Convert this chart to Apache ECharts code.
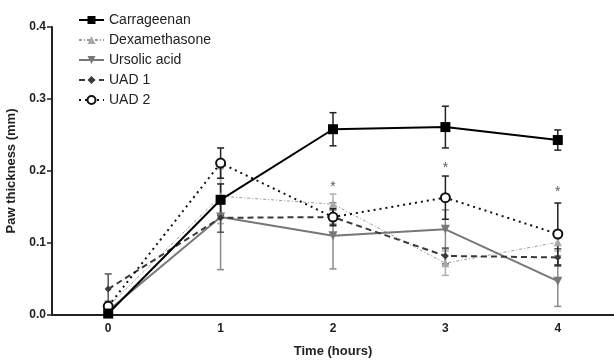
<!DOCTYPE html>
<html>
<head>
<meta charset="utf-8">
<script src="https://cdn.jsdelivr.net/npm/echarts@6/dist/echarts.min.js"></script>
<style>
  html, body { margin: 0; padding: 0; background: #fff; }
  #chart { width: 614px; height: 360px; }
</style>
</head>
<body>
<div id="chart"></div>
<script>
// 数据
const times = ['0', '1', '2', '3', '4'];
const yTicks = [0.0, 0.1, 0.2, 0.3, 0.4];

const carrageenan = [0.002, 0.160, 0.258, 0.261, 0.243];
const carrageenanErr = [0.003, 0.022, 0.023, 0.029, 0.014];
const dexamethasone = [0.012, 0.165, 0.154, 0.072, 0.101];
const dexamethasoneErr = [0.008, 0.038, 0.014, 0.017, 0.012];
const ursolicAcid = [0.006, 0.136, 0.110, 0.119, 0.047];
const ursolicAcidErr = [0.006, 0.073, 0.046, 0.027, 0.035];
const uad1 = [0.036, 0.135, 0.136, 0.082, 0.080];
const uad1Err = [0.021, 0.020, 0.010, 0.011, 0.012];
const uad2 = [0.012, 0.211, 0.136, 0.163, 0.1125];
const uad2Err = [0.006, 0.021, 0.012, 0.030, 0.043];

// 显著性标记 *
const starTimes = [2, 3, 4];
const starValues = [0.178, 0.204, 0.170];

const FONT = '"Liberation Sans", Arial, sans-serif';

// 误差棒数据 [x, low, high]
function errData(vals, errs) {
    return vals.map((v, i) => [i, v - errs[i], v + errs[i]]);
}

function errorBarSeries(vals, errs, color, width) {
    return {
        type: 'custom',
        data: errData(vals, errs),
        encode: { x: 0, y: [1, 2] },
        silent: true,
        z: 1,
        renderItem: function (params, api) {
            const x = api.value(0);
            const lo = api.coord([x, api.value(1)]);
            const hi = api.coord([x, api.value(2)]);
            const hw = 3.5;
            const style = { stroke: color, lineWidth: width };
            return {
                type: 'group',
                children: [
                    { type: 'line', shape: { x1: lo[0], y1: lo[1], x2: hi[0], y2: hi[1] }, style: style },
                    { type: 'line', shape: { x1: hi[0] - hw, y1: hi[1], x2: hi[0] + hw, y2: hi[1] }, style: style },
                    { type: 'line', shape: { x1: lo[0] - hw, y1: lo[1], x2: lo[0] + hw, y2: lo[1] }, style: style }
                ]
            };
        }
    };
}

function lineSeries(name, vals, opts) {
    return Object.assign({
        name: name,
        type: 'line',
        data: vals,
        z: 3,
        animation: false
    }, opts);
}

const chart = echarts.init(document.getElementById('chart'), null, { renderer: 'canvas' });

const option = {
    animation: false,
    textStyle: { fontFamily: FONT },
    grid: { left: 52, right: 0, top: 27, bottom: 45, containLabel: false, outerBoundsMode: 'none' },
    legend: {
        orient: 'vertical',
        left: 73,
        top: 8,
        itemWidth: 25,
        itemHeight: 10,
        itemGap: 6,
        textStyle: { fontFamily: FONT, fontSize: 14, color: '#222' },
        data: ['Carrageenan', 'Dexamethasone', 'Ursolic acid', 'UAD 1', 'UAD 2']
    },
    xAxis: {
        type: 'category',
        data: times,
        boundaryGap: true,
        name: 'Time (hours)',
        nameLocation: 'middle',
        nameGap: 30,
        nameTextStyle: { fontFamily: FONT, fontSize: 13, fontWeight: 'bold', color: '#222' },
        axisLine: { lineStyle: { color: '#222', width: 2 } },
        axisTick: { alignWithLabel: true, length: 5, lineStyle: { color: '#222', width: 1.5 } },
        axisLabel: { fontFamily: FONT, fontSize: 12, fontWeight: 'bold', color: '#222', margin: 8 },
        splitLine: { show: false }
    },
    yAxis: {
        type: 'value',
        min: 0,
        max: 0.4,
        interval: 0.1,
        name: 'Paw thickness (mm)',
        nameLocation: 'middle',
        nameGap: 33,
        nameTextStyle: { fontFamily: FONT, fontSize: 13, fontWeight: 'bold', color: '#222' },
        axisLine: { show: true, lineStyle: { color: '#222', width: 2 } },
        axisTick: { show: true, length: 5, lineStyle: { color: '#222', width: 1.5 } },
        axisLabel: {
            fontFamily: FONT, fontSize: 12, fontWeight: 'bold', color: '#222', margin: 6,
            formatter: v => yTicks.some(t => Math.abs(t - v) < 1e-9) ? v.toFixed(1) : ''
        },
        splitLine: { show: false }
    },
    series: [
        errorBarSeries(ursolicAcid, ursolicAcidErr, '#8a8a8a', 1.5),
        errorBarSeries(dexamethasone, dexamethasoneErr, '#b0b0b0', 1.5),
        errorBarSeries(uad1, uad1Err, '#555', 1.5),
        errorBarSeries(uad2, uad2Err, '#222', 1.5),
        errorBarSeries(carrageenan, carrageenanErr, '#222', 1.5),
        lineSeries('Dexamethasone', dexamethasone, {
            color: '#a8a8a8',
            symbol: 'triangle', symbolSize: 8,
            lineStyle: { color: '#9a9a9a', width: 1, type: [3, 2, 1, 2] },
            itemStyle: { color: '#a8a8a8' }
        }),
        lineSeries('Ursolic acid', ursolicAcid, {
            color: '#777',
            symbol: 'triangle', symbolSize: 9, symbolRotate: 180,
            lineStyle: { color: '#777', width: 2, type: 'solid' },
            itemStyle: { color: '#777' }
        }),
        lineSeries('UAD 1', uad1, {
            color: '#3a3a3a',
            symbol: 'diamond', symbolSize: 7,
            lineStyle: { color: '#3a3a3a', width: 2, type: [6, 4] },
            itemStyle: { color: '#3a3a3a' }
        }),
        lineSeries('UAD 2', uad2, {
            color: '#111',
            symbol: 'emptyCircle', symbolSize: 9,
            lineStyle: { color: '#111', width: 2, type: [2, 4] },
            itemStyle: { color: '#111', borderWidth: 2, borderColor: '#111' }
        }),
        lineSeries('Carrageenan', carrageenan, {
            color: '#000',
            symbol: 'rect', symbolSize: 10,
            lineStyle: { color: '#000', width: 2, type: 'solid' },
            itemStyle: { color: '#000' }
        }),
        {
            type: 'scatter',
            data: starTimes.map((t, i) => [t, starValues[i]]),
            symbolSize: 0,
            silent: true,
            label: {
                show: true, position: 'inside', formatter: '*',
                fontFamily: FONT, fontSize: 14, color: '#333'
            }
        }
    ]
};

chart.setOption(option);
window.addEventListener('resize', () => chart.resize());
</script>
</body>
</html>
